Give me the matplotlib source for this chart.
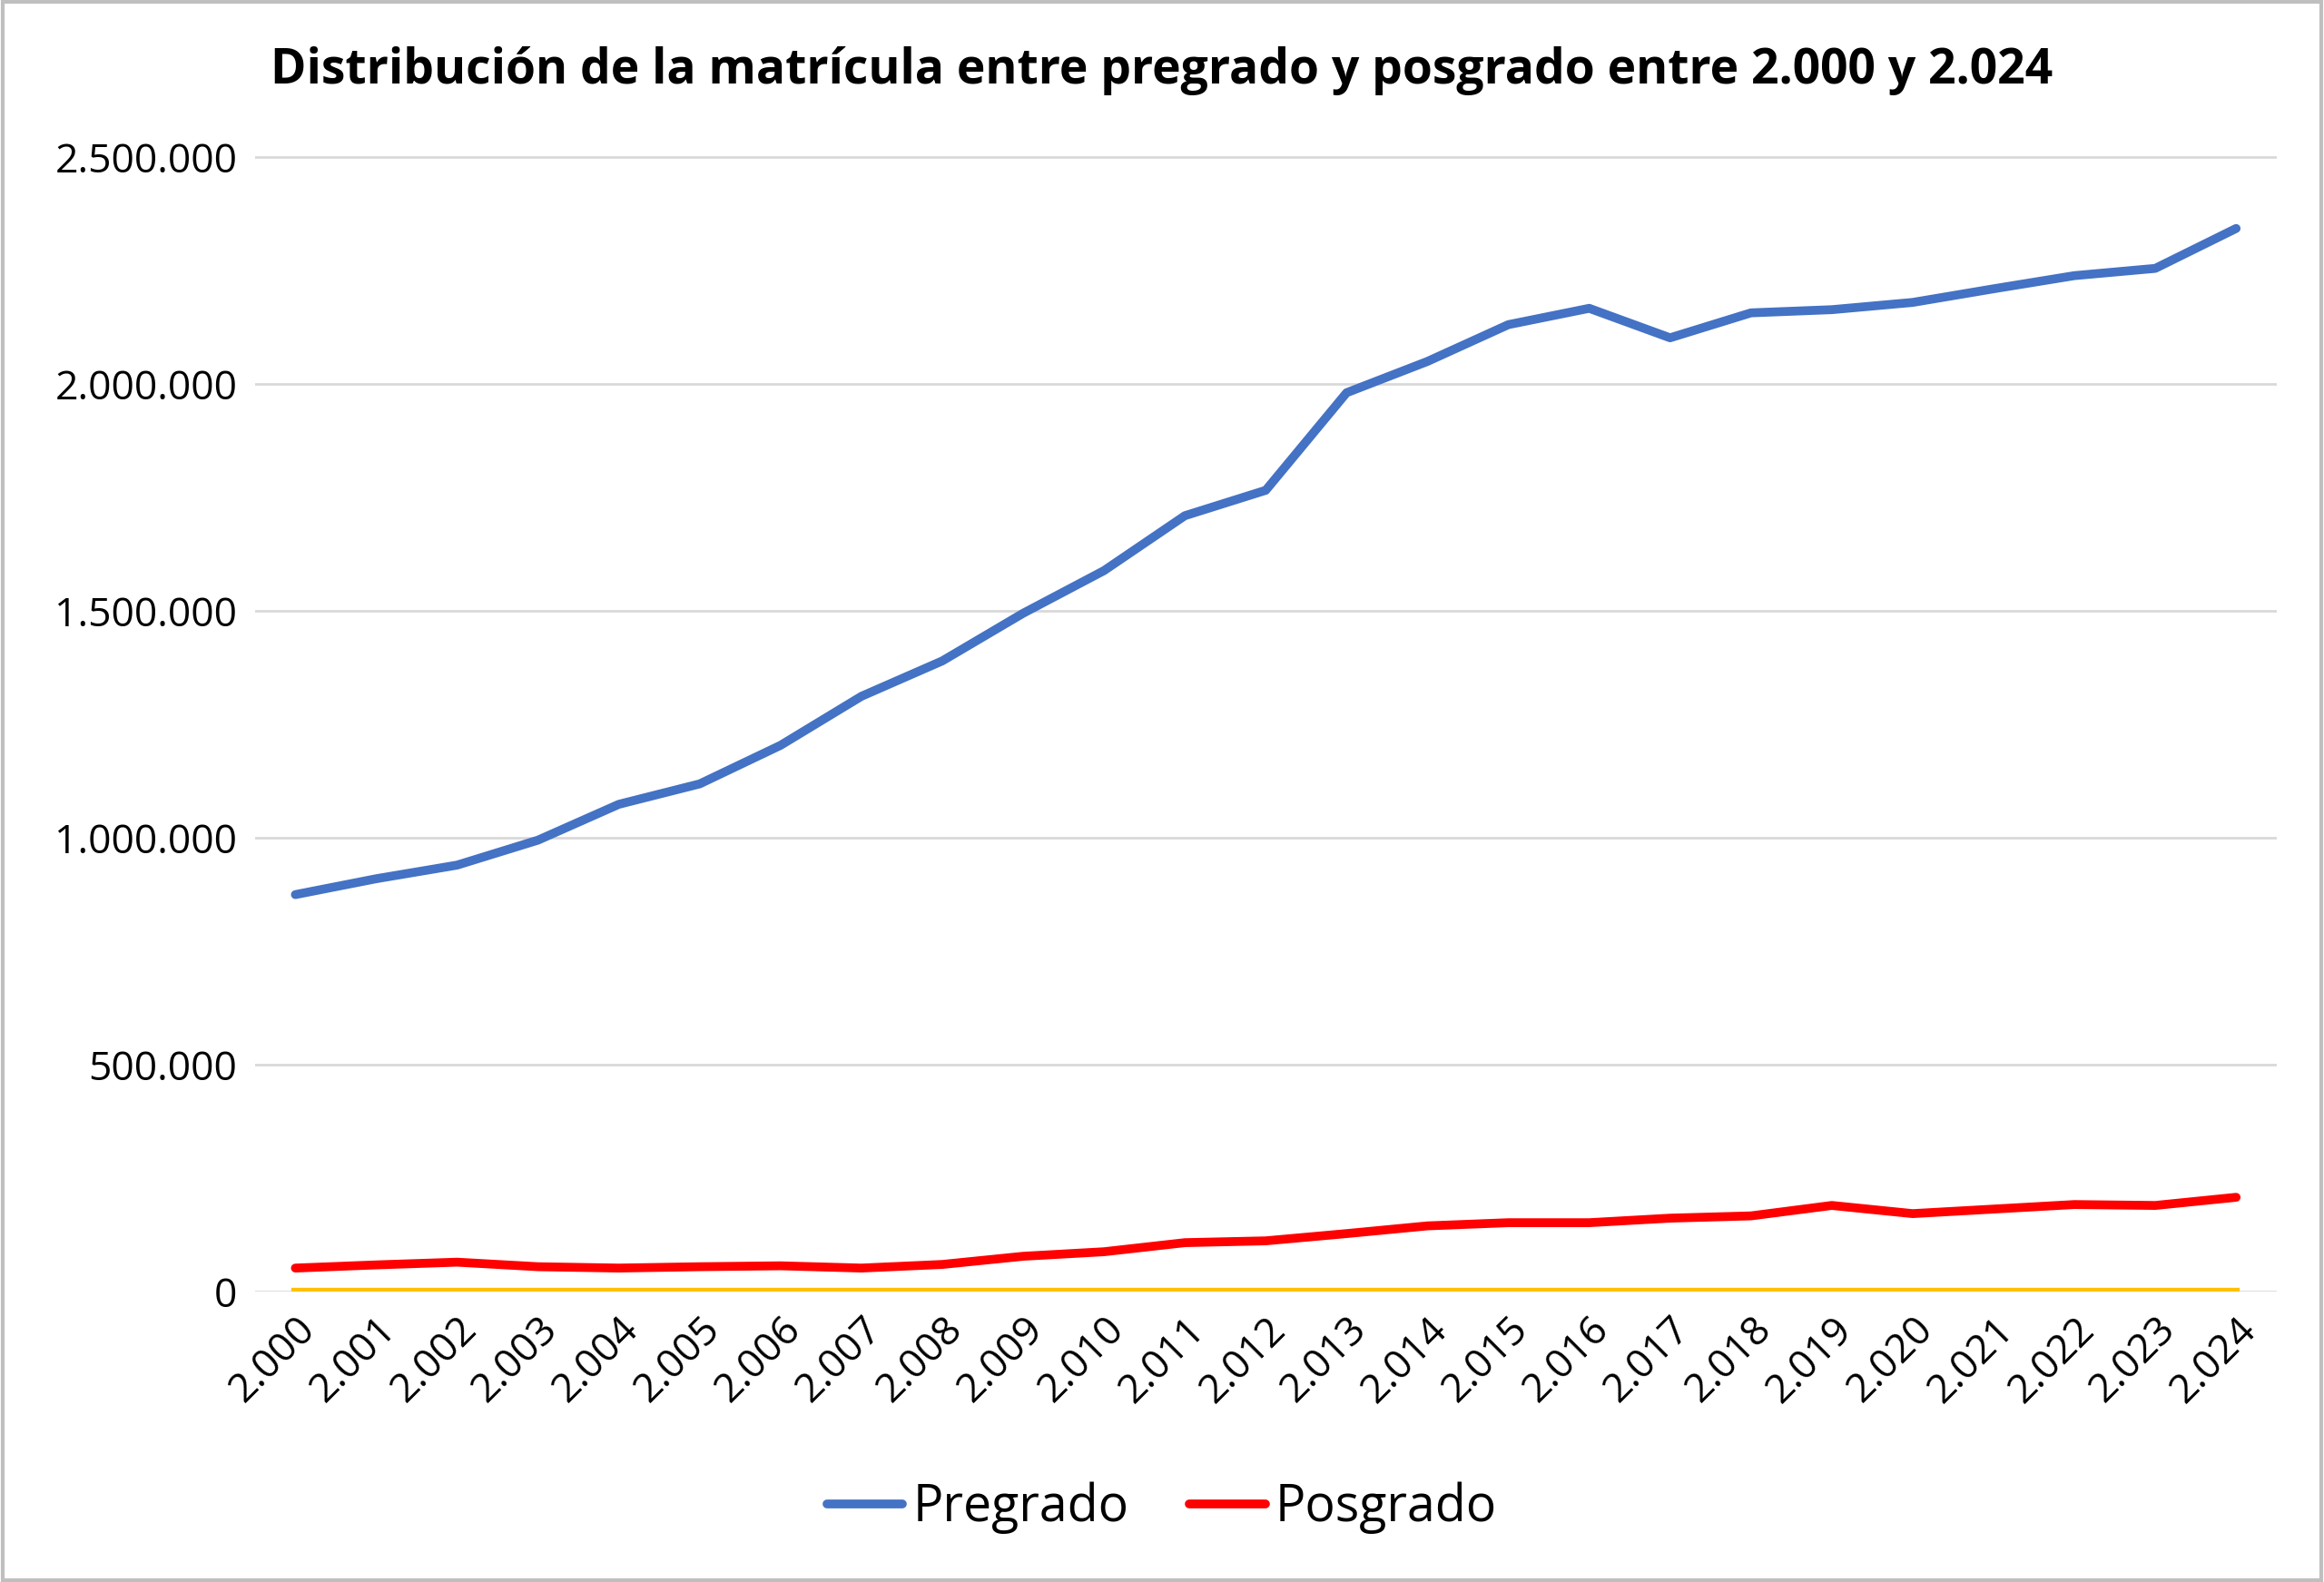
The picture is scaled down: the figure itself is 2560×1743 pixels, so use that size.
import matplotlib.pyplot as plt
import matplotlib.ticker as mticker
import numpy as np

years = list(range(2000, 2025))
year_labels = [f"{y // 1000}.{y % 1000:03d}" for y in years]
pregrado = [875000, 910000, 940000, 995000, 1074000, 1119000, 1204000, 1312000, 1390000,
            1495000, 1589000, 1710000, 1766000, 1981000, 2050000, 2131000, 2167000,
            2102000, 2157000, 2164000, 2180000, 2210000, 2239000, 2255000, 2343000]
posgrado = [52000, 59000, 65000, 55000, 52000, 55000, 57000, 52000, 60000, 78000, 88000,
            108000, 112000, 128000, 145000, 152000, 152000, 162000, 167000, 190000,
            172000, 182000, 192000, 190000, 208000]
otros = [0] * len(years)

plt.rcParams['font.family'] = ['Open Sans', 'DejaVu Sans']

fig = plt.figure(figsize=(25.6, 17.43), dpi=100)
ax = fig.add_axes([172 / 1568, 1 - 872 / 1068, (1536 - 172) / 1568, (872 - 100) / 1068])

x = np.arange(len(years))
ax.plot(x, pregrado, color='#4472C4', lw=7, label='Pregrado', solid_capstyle='round')
ax.plot(x, posgrado, color='#FF0000', lw=7, label='Posgrado', solid_capstyle='round')
ax.plot(x, otros, color='#FFC000', lw=6)

ax.set_xlim(-0.5, 24.5)
ax.set_ylim(0, 2520000)
ax.set_yticks(np.arange(0, 2500001, 500000))
ax.yaxis.set_major_formatter(mticker.FuncFormatter(lambda v, p: f"{int(v):,}".replace(',', '.')))
ax.set_xticks(x)
ax.set_xticklabels(year_labels, rotation=45, ha='right', rotation_mode='anchor')
ax.tick_params(axis='both', labelsize=32, length=0)
ax.tick_params(axis='x', pad=14)
ax.tick_params(axis='y', pad=14)
ax.grid(axis='y', color='#D9D9D9', lw=2)
ax.set_axisbelow(True)
for s in ax.spines.values():
    s.set_visible(False)

fig.text(0.5, 1 - 48 / 1068, 'Distribución de la matrícula entre pregrado y posgrado entre 2.000 y 2.024',
         ha='center', va='center', fontsize=38.5, fontweight='bold')
fig.legend(loc='center', bbox_to_anchor=(0.5, 1 - 1018 / 1068), ncol=2, frameon=False,
           fontsize=40, handlelength=1.5, handletextpad=0.2, columnspacing=1.2)

fig.patches.append(plt.Rectangle((0.001, 0.001), 0.998, 0.998, transform=fig.transFigure,
                                 fill=False, edgecolor='#BFBFBF', lw=3))
fig.savefig('out.png', dpi=100)
